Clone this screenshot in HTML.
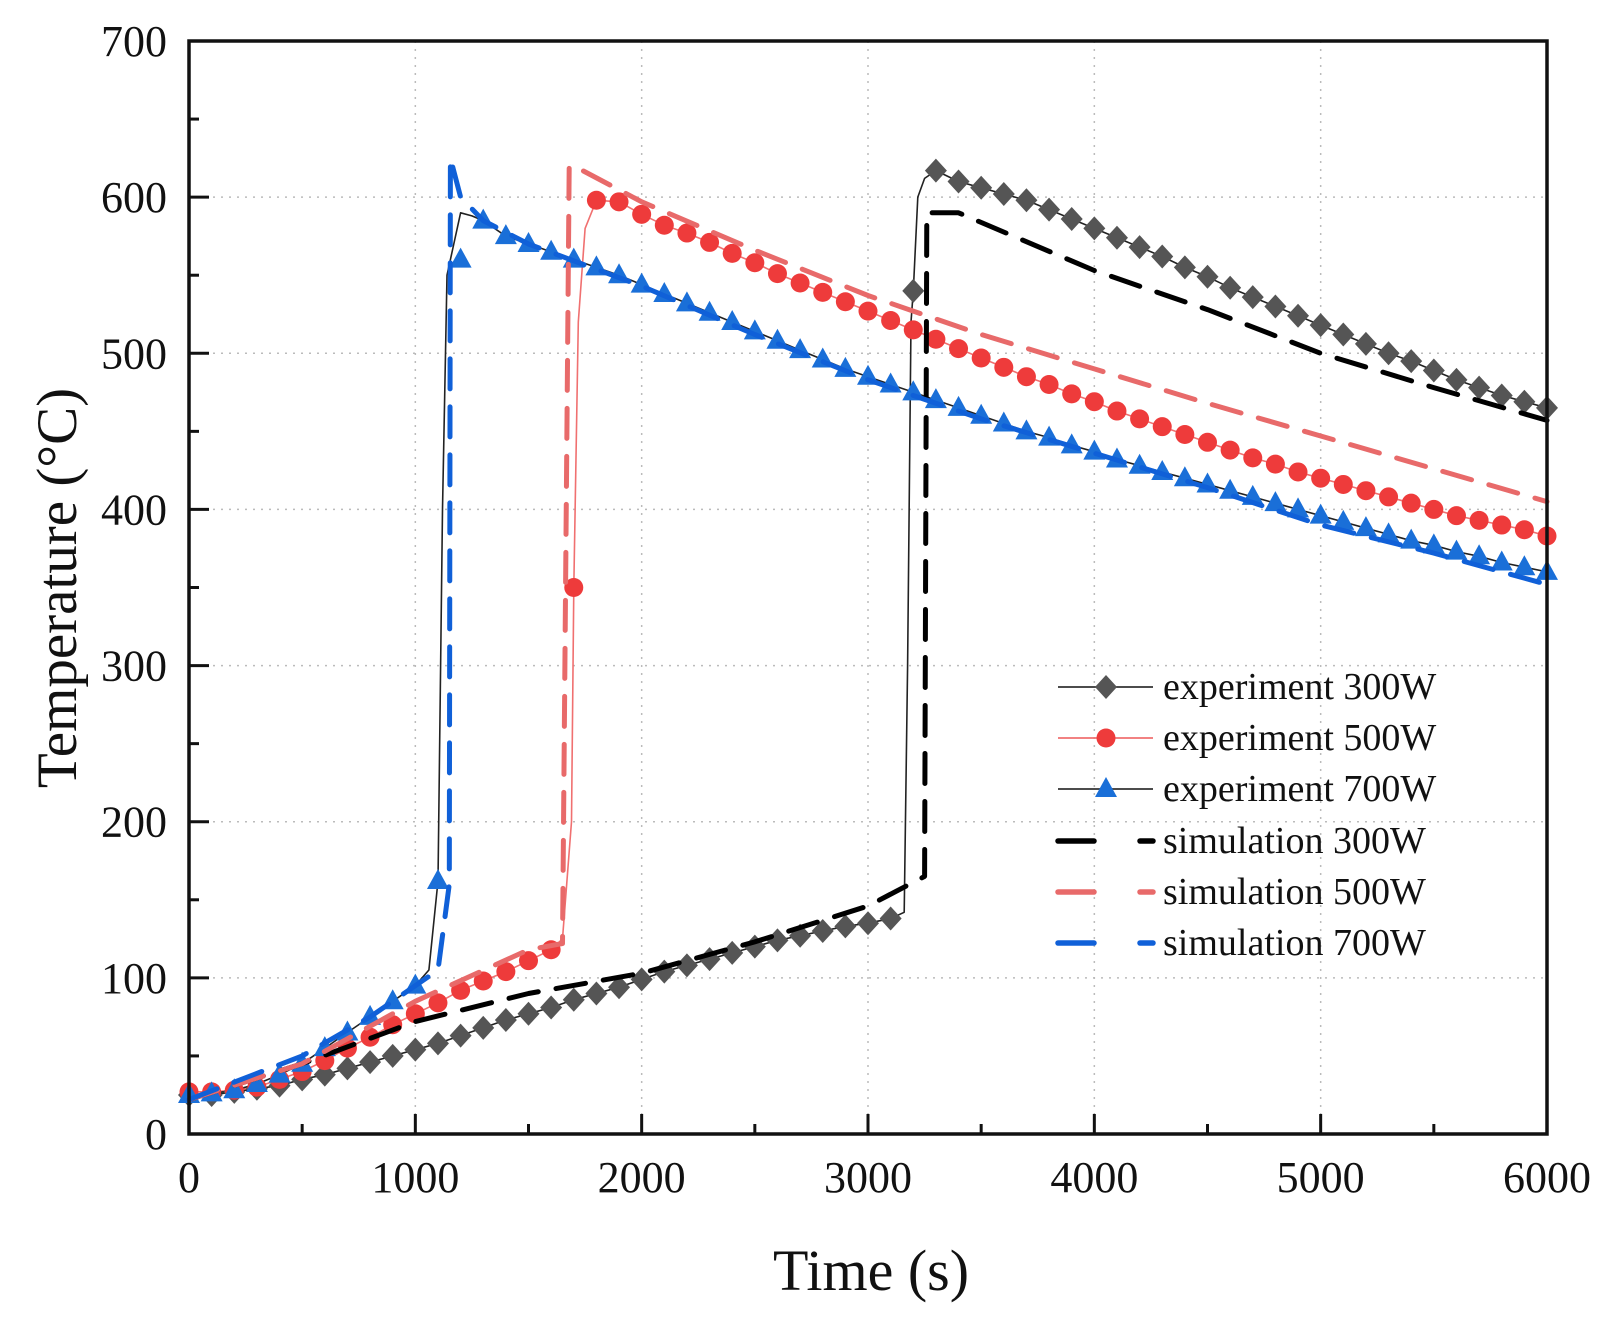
<!DOCTYPE html>
<html><head><meta charset="utf-8">
<style>
html,body{margin:0;padding:0;background:#fff;}
svg{display:block;font-family:"Liberation Serif",serif;}
</style></head>
<body>
<svg id="chart" width="1624" height="1323" viewBox="0 0 1624 1323" xmlns="http://www.w3.org/2000/svg"></svg>
<script>
const xTicks=[0,1000,2000,3000,4000,5000,6000];
const yTicks=[0,100,200,300,400,500,600,700];
const exp300=[[0,25],[100,25],[200,27],[300,29],[400,31],[500,35],[600,38],[700,42],[800,46],[900,50],[1000,54],[1100,58],[1200,63],[1300,68],[1400,73],[1500,77],[1600,81],[1700,86],[1800,90],[1900,94],[2000,99],[2100,104],[2200,108],[2300,112],[2400,116],[2500,120],[2600,124],[2700,127],[2800,130],[2900,133],[3000,135],[3100,138],[3200,540],[3300,617],[3400,610],[3500,606],[3600,602],[3700,598],[3800,592],[3900,586],[4000,580],[4100,574],[4200,568],[4300,562],[4400,555],[4500,549],[4600,542],[4700,536],[4800,530],[4900,524],[5000,518],[5100,512],[5200,506],[5300,500],[5400,495],[5500,489],[5600,483],[5700,478],[5800,473],[5900,469],[6000,465]];
const exp300Line=[[3100,138],[3160,142],[3175,300],[3190,520],[3200,540],[3220,600],[3250,612],[3300,617]];
const exp500=[[0,27],[100,27],[200,28],[300,30],[400,35],[500,40],[600,47],[700,55],[800,62],[900,70],[1000,77],[1100,84],[1200,92],[1300,98],[1400,104],[1500,111],[1600,118],[1700,350],[1800,598],[1900,597],[2000,589],[2100,582],[2200,577],[2300,571],[2400,564],[2500,558],[2600,551],[2700,545],[2800,539],[2900,533],[3000,527],[3100,521],[3200,515],[3300,509],[3400,503],[3500,497],[3600,491],[3700,485],[3800,480],[3900,474],[4000,469],[4100,463],[4200,458],[4300,453],[4400,448],[4500,443],[4600,438],[4700,433],[4800,429],[4900,424],[5000,420],[5100,416],[5200,412],[5300,408],[5400,404],[5500,400],[5600,396],[5700,393],[5800,390],[5900,387],[6000,383]];
const exp500Line=[[1600,118],[1650,125],[1690,200],[1700,350],[1720,520],[1750,580],[1800,598]];
const exp700=[[0,25],[100,26],[200,28],[300,32],[400,38],[500,45],[600,55],[700,65],[800,75],[900,85],[1000,95],[1100,162],[1200,560],[1300,585],[1400,575],[1500,570],[1600,565],[1700,560],[1800,555],[1900,550],[2000,544],[2100,538],[2200,532],[2300,526],[2400,520],[2500,514],[2600,508],[2700,502],[2800,496],[2900,490],[3000,485],[3100,480],[3200,475],[3300,470],[3400,465],[3500,460],[3600,455],[3700,450],[3800,446],[3900,441],[4000,437],[4100,432],[4200,428],[4300,424],[4400,420],[4500,416],[4600,412],[4700,408],[4800,404],[4900,400],[5000,396],[5100,392],[5200,388],[5300,384],[5400,380],[5500,377],[5600,373],[5700,370],[5800,366],[5900,363],[6000,360]];
const exp700Line=[[1000,95],[1060,105],[1100,162],[1120,400],[1140,550],[1170,570],[1200,590],[1250,588],[1300,585]];
const sim300=[[0,22],[500,45],[1000,72],[1500,90],[2000,103],[2500,123],[3000,146],[3250,165],[3260,590],[3400,590],[4000,553],[4500,528],[5000,500],[5500,478],[6000,457]];
const sim500=[[0,22],[500,45],[1000,85],[1500,118],[1650,122],[1680,620],[1700,620],[2000,597],[2500,566],[3000,537],[3500,512],[4000,490],[4500,468],[5000,447],[5500,426],[6000,405]];
const sim700=[[0,22],[500,50],[800,75],[1000,95],[1100,105],[1150,160],[1155,625],[1200,600],[1300,585],[1500,570],[2000,543],[2500,512],[3000,483],[3500,458],[4000,436],[4500,414],[5000,390],[5500,372],[6000,352]];

const L=189,R=1547,T=41,B=1134;
const X=v=>L+(v/6000)*(R-L);
const Y=v=>B-(v/700)*(B-T);
const svg=document.getElementById('chart');
const NS='http://www.w3.org/2000/svg';
function mk(tag,attrs,parent){const e=document.createElementNS(NS,tag);for(const k in attrs)e.setAttribute(k,attrs[k]);(parent||svg).appendChild(e);return e;}

const grid=mk('g',{});


xTicks.slice(1,-1).forEach(t=>mk('line',{x1:X(t),x2:X(t),y1:T,y2:B,stroke:'#bbb','stroke-width':1.5,'stroke-dasharray':'2 6'},grid));
yTicks.slice(1,-1).forEach(t=>mk('line',{x1:L,x2:R,y1:Y(t),y2:Y(t),stroke:'#bbb','stroke-width':1.5,'stroke-dasharray':'2 6'},grid));

function path(pts){return pts.map((p,i)=>(i?'L':'M')+X(p[0]).toFixed(1)+' '+Y(p[1]).toFixed(1)).join(' ');}
function line(pts,stroke,w,dash,name){const p=mk('path',{d:path(pts),fill:'none',stroke:stroke,'stroke-width':w,'stroke-linejoin':'round','stroke-linecap':dash?'round':'butt'});if(dash)p.setAttribute('stroke-dasharray',dash);return p;}
function markerShape(type,cx,cy,fill,parent){
 if(type==='d')return mk('path',{d:`M${cx} ${cy-12}L${cx+11} ${cy}L${cx} ${cy+12}L${cx-11} ${cy}Z`,fill:fill},parent);
 if(type==='c')return mk('circle',{cx:cx,cy:cy,r:9.5,fill:fill},parent);
 return mk('path',{d:`M${cx} ${cy-12}L${cx+11} ${cy+8}L${cx-11} ${cy+8}Z`,fill:fill},parent);
}
function markers(pts,type,fill,name){const g=mk('g',{});pts.forEach(p=>markerShape(type,X(p[0]),Y(p[1]),fill,g));}

function expLine(pts,extra){const m=new Map();pts.forEach(p=>m.set(p[0],p[1]));extra.forEach(p=>m.set(p[0],p[1]));return [...m.entries()].sort((a,b)=>a[0]-b[0]);}
line(expLine(exp300,exp300Line),'#222',1.6,null,'experiment-300w-line');
line(expLine(exp500,exp500Line),'#f07070',1.6,null,'experiment-500w-line');
line(expLine(exp700,exp700Line),'#222',1.6,null,'experiment-700w-line');
markers(exp300,'d','#555','experiment-300w-markers');
markers(exp500,'c','#ee3b3b','experiment-500w-markers');
markers(exp700,'t','#1a6fd8','experiment-700w-markers');
line(sim300,'#000',5,'30 18','simulation-300w-line');
line(sim500,'#e86a6a',5,'30 18','simulation-500w-line');
line(sim700,'#1060d8',5,'30 18','simulation-700w-line');

const ax=mk('rect',{x:L,y:T,width:R-L,height:B-T,fill:'none',stroke:'#111','stroke-width':3.5});


const tg=mk('g',{stroke:'#111','stroke-width':3});


for(let t=0;t<=6000;t+=500){const len=t%1000===0?20:10;mk('line',{x1:X(t),x2:X(t),y1:B,y2:B-len},tg);}
for(let t=0;t<=700;t+=50){const len=t%100===0?20:10;mk('line',{x1:L,x2:L+len,y1:Y(t),y2:Y(t)},tg);}
xTicks.forEach(t=>{const e=mk('text',{x:X(t),y:B+58,'text-anchor':'middle','font-size':44,fill:'#111'});e.textContent=t;});
yTicks.forEach(t=>{const e=mk('text',{x:L-22,y:Y(t)+15,'text-anchor':'end','font-size':44,fill:'#111'});e.textContent=t;});
const xt=mk('text',{x:871,y:1290,'text-anchor':'middle','font-size':58,fill:'#111'});xt.textContent='Time (s)';


const yt=mk('text',{x:0,y:0,'text-anchor':'middle','font-size':57,fill:'#111',transform:'translate(76,588) rotate(-90)'});yt.textContent='Temperature (°C)';



const legendLabels=['experiment 300W','experiment 500W','experiment 700W','simulation 300W','simulation 500W','simulation 700W'];
const lg=mk('g',{});


const rowsY=[687,738,789,841,892,943];
const lcol=['#333','#f07070','#333','#000','#e86a6a','#1060d8'];
const mcol=['#555','#ee3b3b','#1a6fd8'];
rowsY.forEach((ry,i)=>{
 const g=mk('g',{},lg);
 
 
 if(i<3){mk('line',{x1:1058,x2:1153,y1:ry,y2:ry,stroke:lcol[i],'stroke-width':1.8},g);markerShape(['d','c','t'][i],1106,ry,mcol[i],g);}
 else{mk('line',{x1:1058,x2:1094,y1:ry,y2:ry,stroke:lcol[i],'stroke-width':5.5,'stroke-linecap':'round'},g);mk('line',{x1:1140,x2:1153,y1:ry,y2:ry,stroke:lcol[i],'stroke-width':5.5,'stroke-linecap':'round'},g);}
 const t=mk('text',{x:1163,y:ry+12,'font-size':38,fill:'#111'},g);t.textContent=legendLabels[i];
});
</script>
</body></html>
